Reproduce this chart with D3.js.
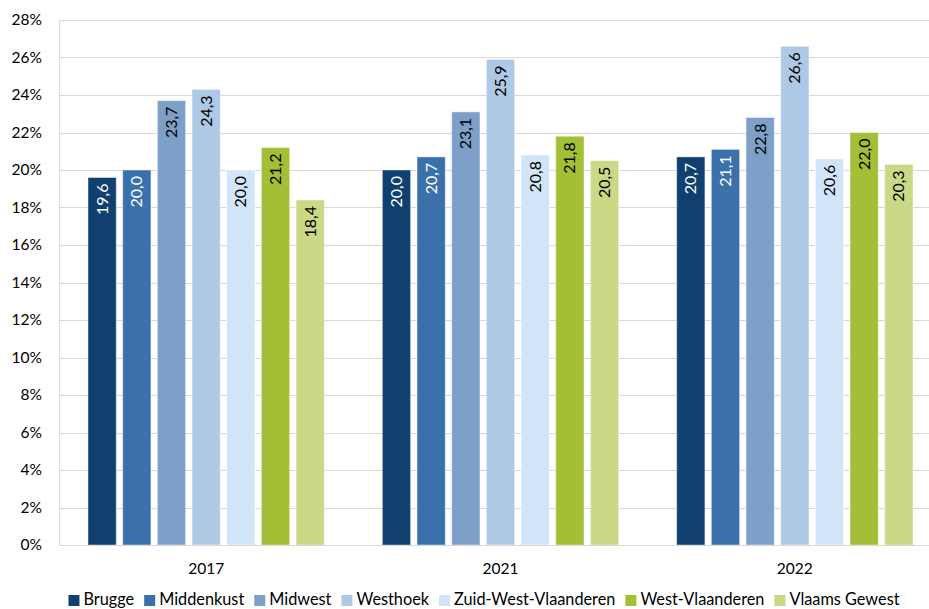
<!DOCTYPE html>
<html>
<head>
<meta charset="utf-8">
<script src="https://cdn.jsdelivr.net/npm/d3@7"></script>
<style>
  html, body { margin: 0; padding: 0; background: #fff; }
  svg { display: block; font-family: Lato, "Open Sans", sans-serif; }
</style>
</head>
<body>
<svg id="chart" width="929" height="609"></svg>
<script>
const years = ["2017", "2021", "2022"];
const regions = ["Brugge", "Middenkust", "Midwest", "Westhoek", "Zuid-West-Vlaanderen", "West-Vlaanderen", "Vlaams Gewest"];
const colors = ["#10406f", "#3b71aa", "#7d9fc8", "#aec9e6", "#d2e5f8", "#a3bf35", "#c9d985"];
const labelColors = ["#ffffff", "#ffffff", "#000000", "#000000", "#000000", "#000000", "#000000"];
const values2017 = [19.6, 20.0, 23.7, 24.3, 20.0, 21.2, 18.4];
const values2021 = [20.0, 20.7, 23.1, 25.9, 20.8, 21.8, 20.5];
const values2022 = [20.7, 21.1, 22.8, 26.6, 20.6, 22.0, 20.3];
const yTicks = [0, 2, 4, 6, 8, 10, 12, 14, 16, 18, 20, 22, 24, 26, 28];

const seriesByYear = [values2017, values2021, values2022];
const data = years.map((yr, i) => ({ year: yr, values: regions.map((r, j) => ({ region: r, idx: j, value: seriesByYear[i][j] })) }));

const svg = d3.select("#chart");
const pLeft = 59, pRight = 942, pTop = 20, pBottom = 545;

const x0 = d3.scaleBand().domain(years).range([pLeft, pRight]).padding(0);
const x1 = d3.scaleBand().domain(regions).range([29, x0.bandwidth() - 29]).paddingInner(0.185).paddingOuter(0);
const y = d3.scaleLinear().domain([0, 28]).range([pBottom, pTop]);

// gridlines
svg.append("g").selectAll("line").data(yTicks).join("line")
  .attr("x1", pLeft).attr("x2", pRight)
  .attr("y1", d => Math.round(y(d)) + 0.5).attr("y2", d => Math.round(y(d)) + 0.5)
  .attr("stroke", "#d9d9d9").attr("stroke-width", 1);

// left border
svg.append("line").attr("x1", pLeft + 0.5).attr("x2", pLeft + 0.5).attr("y1", pTop).attr("y2", pBottom)
  .attr("stroke", "#d9d9d9");

// y axis labels
const yAxis = d3.axisLeft(y).tickValues(yTicks).tickFormat(d => d + "%").tickSize(0).tickPadding(17);
const ya = svg.append("g").attr("transform", `translate(${pLeft},0)`).call(yAxis);
ya.select(".domain").remove();
ya.selectAll("text").attr("font-size", 15.5).attr("fill", "#000").attr("font-family", "Lato, sans-serif");

// bars
const groups = svg.append("g").selectAll("g").data(data).join("g")
  .attr("transform", d => `translate(${x0(d.year)},0)`);

groups.selectAll("rect").data(d => d.values).join("rect")
  .attr("x", d => x1(d.region))
  .attr("y", d => y(d.value))
  .attr("width", x1.bandwidth())
  .attr("height", d => y(0) - y(d.value))
  .attr("fill", d => colors[d.idx])
  .attr("stroke", "#ffffff").attr("stroke-opacity", 0.45).attr("stroke-width", 1);

groups.selectAll("text").data(d => d.values).join("text")
  .attr("transform", d => `translate(${x1(d.region) + x1.bandwidth() / 2 + 5.5},${y(d.value) + 6}) rotate(-90)`)
  .attr("text-anchor", "end")
  .attr("font-size", 16)
  .attr("fill", d => labelColors[d.idx])
  .text(d => d3.format(".1f")(d.value).replace(".", ","));

// baseline
svg.append("line").attr("x1", pLeft).attr("x2", pRight).attr("y1", pBottom + 0.5).attr("y2", pBottom + 0.5)
  .attr("stroke", "#d9d9d9");

// x axis labels
const xAxis = d3.axisBottom(x0).tickSize(0).tickPadding(18);
const xa = svg.append("g").attr("transform", `translate(0,${pBottom})`).call(xAxis);
xa.select(".domain").remove();
xa.selectAll("text").attr("font-size", 15.5).attr("fill", "#000").attr("font-family", "Lato, sans-serif");

// legend
const legend = svg.append("g");
const items = legend.selectAll("g").data(regions).join("g");
items.append("rect").attr("width", 11).attr("height", 11).attr("y", -10)
  .attr("fill", (d, i) => colors[i]);
items.append("text").attr("x", 15).attr("y", 0).attr("font-size", 16.3).attr("fill", "#000").text(d => d);
let xpos = 0;
items.each(function() {
  const g = d3.select(this);
  g.attr("transform", `translate(${xpos},0)`);
  xpos += 15 + g.select("text").node().getComputedTextLength() + 10;
});
const total = xpos - 10;
legend.attr("transform", `translate(${484 - total / 2},${605})`);
</script>
</body>
</html>
